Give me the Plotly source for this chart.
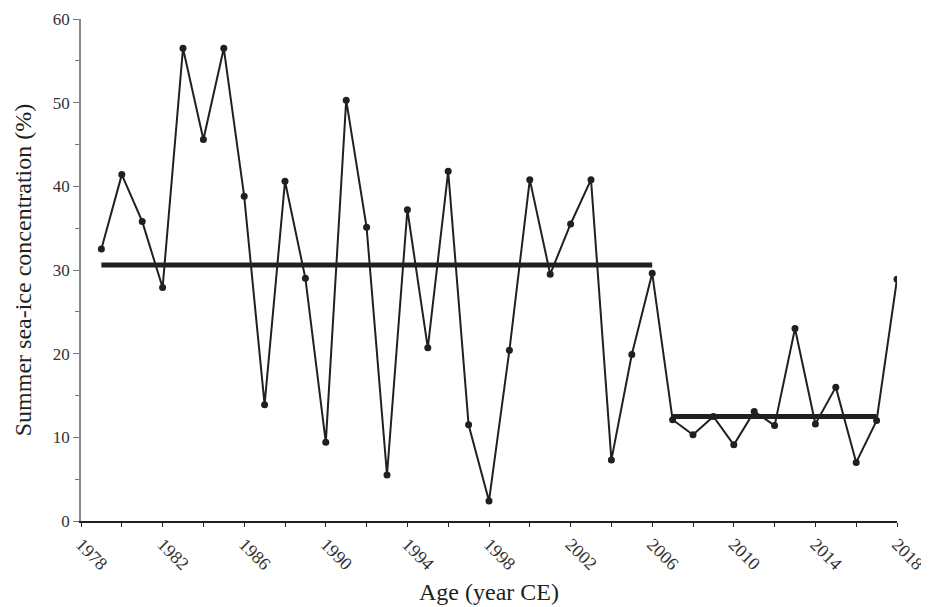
import plotly.graph_objects as go

years = list(range(1979, 2019))
concentration = [32.5, 41.4, 35.8, 27.9, 56.5, 45.6, 56.5, 38.8, 13.9, 40.6,
                 29.0, 9.4, 50.3, 35.1, 5.5, 37.2, 20.7, 41.8, 11.5, 2.4,
                 20.4, 40.8, 29.5, 35.5, 40.8, 7.3, 19.9, 29.6, 12.1, 10.3,
                 12.5, 9.1, 13.1, 11.4, 23.0, 11.6, 16.0, 7.0, 12.0, 28.9]

mean1_years = [1979, 2006]
mean1_value = 30.6
mean2_years = [2007, 2017]
mean2_value = 12.5

x_ticks = list(range(1978, 2019, 4))

font_family = "Liberation Serif, Times New Roman, serif"

fig = go.Figure()
fig.add_trace(go.Scatter(
    x=years, y=concentration, mode="lines+markers",
    line=dict(color="#231f20", width=2),
    marker=dict(color="#231f20", size=7),
    showlegend=False, hoverinfo="x+y"))
fig.add_trace(go.Scatter(
    x=mean1_years, y=[mean1_value] * 2, mode="lines",
    line=dict(color="#231f20", width=5), showlegend=False))
fig.add_trace(go.Scatter(
    x=mean2_years, y=[mean2_value] * 2, mode="lines",
    line=dict(color="#231f20", width=5), showlegend=False))

fig.update_layout(
    width=921, height=599,
    margin=dict(l=73, r=32, t=11, b=86),
    plot_bgcolor="white", paper_bgcolor="white",
    font=dict(family=font_family, color="#231f20"),
    xaxis=dict(
        range=[1978, 2018], tickmode="array", tickvals=x_ticks,
        ticktext=[str(v) for v in x_ticks], tickangle=45,
        ticks="outside", ticklen=4, tickcolor="#231f20",
        minor=dict(dtick=2, tick0=1978, ticks="outside", ticklen=4, tickcolor="#231f20"),
        showline=True, linecolor="#231f20", linewidth=1.5,
        showgrid=False, zeroline=False, automargin=False,
        tickfont=dict(size=18, family=font_family, color="#333333"),
        title=dict(text="Age (year CE)", font=dict(size=24, family=font_family), standoff=10),
    ),
    yaxis=dict(
        range=[0, 60], tick0=0, dtick=10,
        ticks="outside", ticklen=6, tickcolor="#777777",
        minor=dict(dtick=5, ticks="outside", ticklen=4, tickcolor="#777777"),
        showline=True, linecolor="#888888", linewidth=1.5,
        showgrid=False, zeroline=False, automargin=False,
        tickfont=dict(size=17, family=font_family, color="#333333"),
        title=dict(text="Summer sea-ice concentration (%)", font=dict(size=24, family=font_family), standoff=14),
    ),
)

fig.write_html("out.html")
